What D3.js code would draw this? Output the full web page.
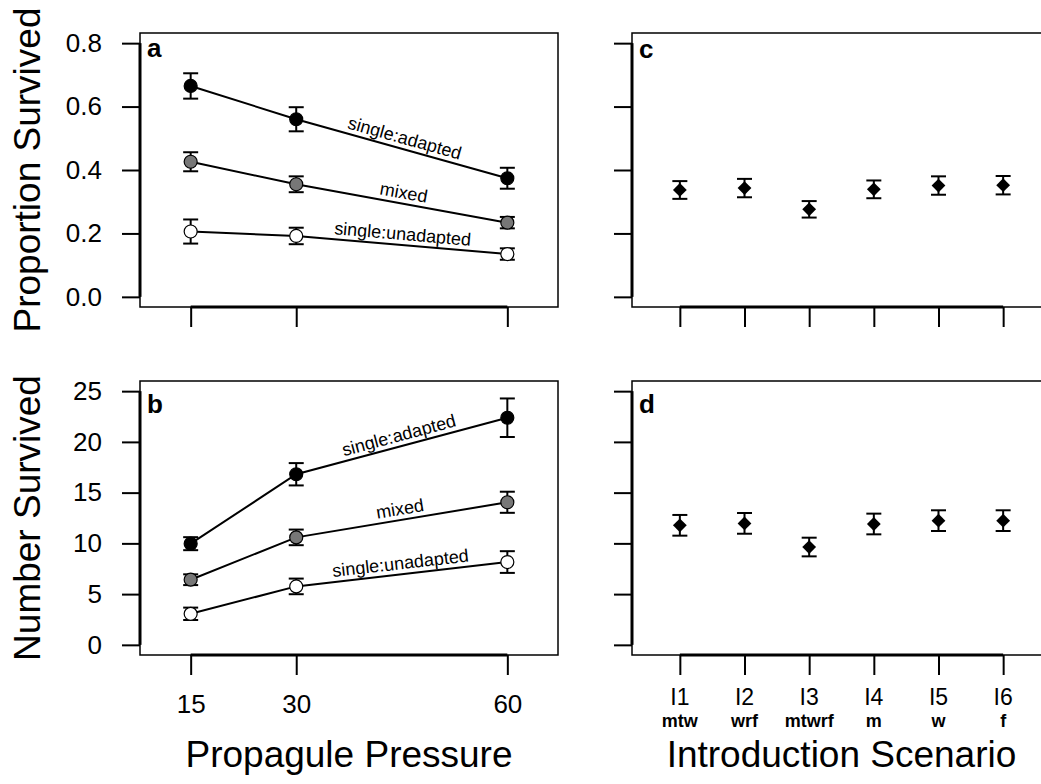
<!DOCTYPE html>
<html>
<head>
<meta charset="utf-8">
<script src="https://cdn.jsdelivr.net/npm/d3@7"></script>
<style>
  body { margin: 0; background: #fff; }
  svg { display: block; font-family: "Liberation Sans", Arial, Helvetica, sans-serif; }
</style>
</head>
<body>
<div id="chart"></div>
<script>
// data
var pressure = [15, 30, 60];
var groups = ["single:adapted", "mixed", "single:unadapted"];
var groupFill = ["#000000", "#777777", "#ffffff"];
var propMean = [[0.665, 0.560, 0.374], [0.426, 0.355, 0.234], [0.206, 0.192, 0.135]];
var propSE = [[0.040, 0.038, 0.033], [0.030, 0.025, 0.018], [0.038, 0.026, 0.018]];
var numMean = [[9.97, 16.81, 22.38], [6.42, 10.59, 14.05], [3.06, 5.76, 8.16]];
var numSE = [[0.64, 1.10, 1.90], [0.53, 0.77, 1.04], [0.61, 0.77, 1.07]];

var scenarios = ["I1", "I2", "I3", "I4", "I5", "I6"];
var scenarioSites = ["mtw", "wrf", "mtwrf", "m", "w", "f"];
var scenPropMean = [0.337, 0.343, 0.276, 0.339, 0.351, 0.352];
var scenPropSE = [0.028, 0.029, 0.026, 0.028, 0.029, 0.029];
var scenNumMean = [11.78, 11.97, 9.64, 11.91, 12.24, 12.24];
var scenNumSE = [1.02, 1.02, 0.92, 1.02, 1.02, 1.02];

var propTicks = [0, 0.2, 0.4, 0.6, 0.8];
var numTicks = [0, 5, 10, 15, 20, 25];

var W = 1041, H = 784;
var svg = d3.select("#chart").append("svg")
    .attr("width", W)
    .attr("height", H);

// panel boxes
var top1 = 33, bot1 = 307, top2 = 381, bot2 = 655;
var leftL = 140, rightL = 558, leftR = 632, rightR = 1051;

var xP = d3.scaleLinear().domain([7.8, 67.2]).range([leftL, rightL]);
var xS = d3.scaleLinear().domain([0.26, 6.74]).range([leftR, rightR]);
var yProp = d3.scaleLinear().domain([-0.032, 0.832]).range([bot1, top1]);
var yNum = d3.scaleLinear().domain([-1, 26]).range([bot2, top2]);

function box(x0, x1, y0, y1) {
    svg.append("rect")
        .attr("x", x0).attr("y", y0)
        .attr("width", x1 - x0).attr("height", y1 - y0)
        .attr("fill", "none")
        .attr("stroke", "#000")
        .attr("stroke-width", 1.5);
}

function yAxis(x0, y, ticks, fmt, showLabels) {
    var ax = d3.axisLeft(y).tickValues(ticks).tickSizeInner(18).tickSizeOuter(0).tickPadding(20)
        .tickFormat(showLabels ? fmt : "");
    var g = svg.append("g").attr("transform", "translate(" + x0 + ",0)").call(ax);
    g.select(".domain").remove();
    g.selectAll(".tick line").attr("stroke-width", 2);
    g.selectAll("text").attr("font-size", 26).attr("fill", "#000")
        .attr("font-family", "'Liberation Sans', Arial, Helvetica, sans-serif");
    g.append("line")
        .attr("y1", y(ticks[0])).attr("y2", y(ticks[ticks.length - 1]))
        .attr("stroke", "#000").attr("stroke-width", 3);
}

function xAxis(y0, x, ticks, showLabels) {
    var ax = d3.axisBottom(x).tickValues(ticks).tickSizeInner(20).tickSizeOuter(0).tickPadding(20);
    if (!showLabels) ax.tickFormat("");
    var g = svg.append("g").attr("transform", "translate(0," + y0 + ")").call(ax);
    g.select(".domain").remove();
    g.selectAll(".tick line").attr("stroke-width", 2);
    g.selectAll("text").attr("font-size", 26).attr("fill", "#000")
        .attr("font-family", "'Liberation Sans', Arial, Helvetica, sans-serif");
    g.append("line")
        .attr("x1", x(ticks[0])).attr("x2", x(ticks[ticks.length - 1]))
        .attr("stroke", "#000").attr("stroke-width", 3);
    return g;
}

function panelLetter(x, y, t) {
    svg.append("text").attr("x", x).attr("y", y)
        .attr("font-size", 26).attr("font-weight", "bold").text(t);
}

function errBar(g, cx, ylo, yhi) {
    g.append("line").attr("x1", cx).attr("x2", cx).attr("y1", ylo).attr("y2", yhi)
        .attr("stroke", "#000").attr("stroke-width", 2);
    [ylo, yhi].forEach(function (v) {
        g.append("line").attr("x1", cx - 7.5).attr("x2", cx + 7.5).attr("y1", v).attr("y2", v)
            .attr("stroke", "#000").attr("stroke-width", 2);
    });
}

// left panels: lines + error bars + circles + labels
function pressurePanel(y, means, ses) {
    var g = svg.append("g");
    var line = d3.line().x(function (d, i) { return xP(pressure[i]); }).y(function (d) { return y(d); });
    means.forEach(function (m, k) {
        g.append("path").attr("d", line(m)).attr("fill", "none")
            .attr("stroke", "#000").attr("stroke-width", 2);
    });
    means.forEach(function (m, k) {
        m.forEach(function (v, i) {
            errBar(g, xP(pressure[i]), y(v - ses[k][i]), y(v + ses[k][i]));
        });
        m.forEach(function (v, i) {
            g.append("circle").attr("cx", xP(pressure[i])).attr("cy", y(v)).attr("r", 6.5)
                .attr("fill", groupFill[k]).attr("stroke", "#000").attr("stroke-width", 1.2);
        });
        // label along the 30-60 segment
        var x1 = xP(pressure[1]), y1 = y(m[1]), x2 = xP(pressure[2]), y2 = y(m[2]);
        var mx = xP(45), my = y1 + (y2 - y1) * (mx - x1) / (x2 - x1);
        var ang = Math.atan2(y2 - y1, x2 - x1) * 180 / Math.PI;
        g.append("text")
            .attr("transform", "translate(" + mx + "," + my + ") rotate(" + ang + ")")
            .attr("y", -5)
            .attr("text-anchor", "middle")
            .attr("font-size", 18)
            .text(groups[k]);
    });
}

function scenarioPanel(y, means, ses) {
    var g = svg.append("g");
    means.forEach(function (v, i) {
        errBar(g, xS(i + 1), y(v - ses[i]), y(v + ses[i]));
        g.append("path")
            .attr("d", d3.symbol().type(d3.symbolSquare).size(95)())
            .attr("transform", "translate(" + xS(i + 1) + "," + y(v) + ") rotate(45)")
            .attr("fill", "#000");
    });
}

// panel a
box(leftL, rightL, top1, bot1);
yAxis(leftL, yProp, propTicks, d3.format(".1f"), true);
xAxis(bot1, xP, pressure, false);
pressurePanel(yProp, propMean, propSE);
panelLetter(147, 57, "a");

// panel b
box(leftL, rightL, top2, bot2);
yAxis(leftL, yNum, numTicks, d3.format("d"), true);
xAxis(bot2, xP, pressure, true);
pressurePanel(yNum, numMean, numSE);
panelLetter(147, 413, "b");

// panel c
box(leftR, rightR, top1, bot1);
yAxis(leftR, yProp, propTicks, null, false);
xAxis(bot1, xS, d3.range(1, 7), false);
scenarioPanel(yProp, scenPropMean, scenPropSE);
panelLetter(639, 58, "c");

// panel d
box(leftR, rightR, top2, bot2);
yAxis(leftR, yNum, numTicks, null, false);
xAxis(bot2, xS, d3.range(1, 7), false);
scenarioPanel(yNum, scenNumMean, scenNumSE);
panelLetter(639, 413, "d");

// scenario tick labels: name + sites
var lab = svg.append("g").attr("text-anchor", "middle");
scenarios.forEach(function (s, i) {
    lab.append("text").attr("x", xS(i + 1)).attr("y", 705).attr("font-size", 23).text(s);
    lab.append("text").attr("x", xS(i + 1)).attr("y", 727)
        .attr("font-size", 18).attr("font-weight", "bold").text(scenarioSites[i]);
});

// axis titles
svg.append("text").attr("x", (leftL + rightL) / 2).attr("y", 767)
    .attr("text-anchor", "middle").attr("font-size", 37).text("Propagule Pressure");
svg.append("text").attr("x", (leftR + rightR) / 2).attr("y", 767)
    .attr("text-anchor", "middle").attr("font-size", 37).text("Introduction Scenario");
svg.append("text").attr("transform", "translate(40," + (top1 + bot1) / 2 + ") rotate(-90)")
    .attr("text-anchor", "middle").attr("font-size", 37).text("Proportion Survived");
svg.append("text").attr("transform", "translate(40," + (top2 + bot2) / 2 + ") rotate(-90)")
    .attr("text-anchor", "middle").attr("font-size", 37).text("Number Survived");
</script>
</body>
</html>
